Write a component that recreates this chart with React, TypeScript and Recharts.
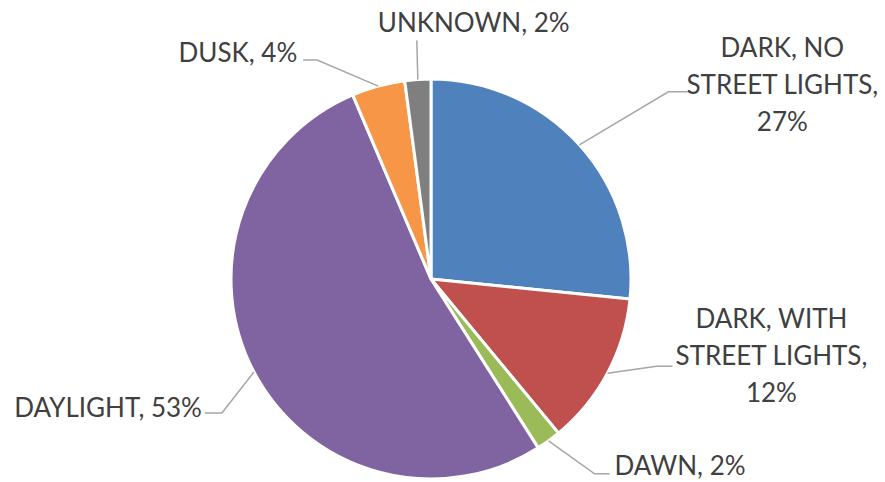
import { Cell, Pie, PieChart } from 'recharts';

const categories = [
  'DARK, NO STREET LIGHTS',
  'DARK, WITH STREET LIGHTS',
  'DAWN',
  'DAYLIGHT',
  'DUSK',
  'UNKNOWN',
];
const shares = [26.6, 12.4, 2.0, 52.6, 4.3, 2.1];
const colors = ['#4F81BD', '#C0504D', '#9BBB59', '#8064A2', '#F79646', '#7F7F7F'];

// how each category name wraps in the data label
const nameLines = [
  ['DARK, NO', 'STREET LIGHTS,'],
  ['DARK, WITH', 'STREET LIGHTS,'],
  ['DAWN'],
  ['DAYLIGHT'],
  ['DUSK'],
  ['UNKNOWN'],
];

// leader line + label placement, relative to the point on the slice edge
const labelLayout = [
  { ex: 89, ey: -53, tail: 19, anchor: 'middle', ox: 95, oy: -45 },
  { ex: 49, ey: -7, tail: 16, anchor: 'middle', ox: 99, oy: -48 },
  { ex: 46, ey: 33, tail: 15, anchor: 'start', ox: 5, oy: -9 },
  { ex: -32, ey: 41, tail: -17, anchor: 'end', ox: -3, oy: -6 },
  { ex: -61, ey: -26, tail: -14, anchor: 'end', ox: -6, oy: -8 },
  { ex: -1, ey: -39, tail: 0, anchor: 'start', ox: -39, oy: -18 },
];

const data = categories.map((name, i) => ({ name, value: shares[i] }));

const RADIAN = Math.PI / 180;
const LINE_H = 37;

function renderLabel(props: any) {
  const { cx, cy, midAngle, outerRadius, index, value } = props;
  const lay = labelLayout[index];
  const sx = cx + outerRadius * Math.cos(-midAngle * RADIAN);
  const sy = cy + outerRadius * Math.sin(-midAngle * RADIAN);
  const mx = sx + lay.ex;
  const my = sy + lay.ey;
  const tx = mx + lay.tail;
  const pct = `${Math.round(value)}%`;
  const names = nameLines[index];
  const lines = names.length > 1 ? [...names, pct] : [`${names[0]}, ${pct}`];
  return (
    <g key={`lbl-${index}`}>
      <polyline
        points={`${sx},${sy} ${mx},${my} ${tx},${my}`}
        fill="none"
        stroke="#A6A6A6"
        strokeWidth={1.5}
      />
      <text
        x={tx + lay.ox}
        y={my + lay.oy}
        textAnchor={lay.anchor}
        fill="#404040"
        fontSize={26}
        fontFamily="Lato, 'Open Sans', sans-serif"
      >
        {lines.map((l, j) => (
          <tspan key={j} x={tx + lay.ox} y={my + lay.oy + j * LINE_H} dominantBaseline="central">
            {l}
          </tspan>
        ))}
      </text>
    </g>
  );
}

export default function App() {
  return (
    <div style={{ position: 'absolute', left: 0, top: 0, width: 885, height: 482, background: '#fff' }}>
      <PieChart width={885} height={482} margin={{ top: 0, right: 0, bottom: 0, left: 0 }}>
        <Pie
          data={data}
          dataKey="value"
          nameKey="name"
          cx={431}
          cy={279}
          outerRadius={200}
          startAngle={90}
          endAngle={-270}
          stroke="#fff"
          strokeWidth={3}
          label={renderLabel}
          labelLine={false}
          isAnimationActive={false}
        >
          {data.map((d, i) => (
            <Cell key={d.name} fill={colors[i]} />
          ))}
        </Pie>
      </PieChart>
    </div>
  );
}
